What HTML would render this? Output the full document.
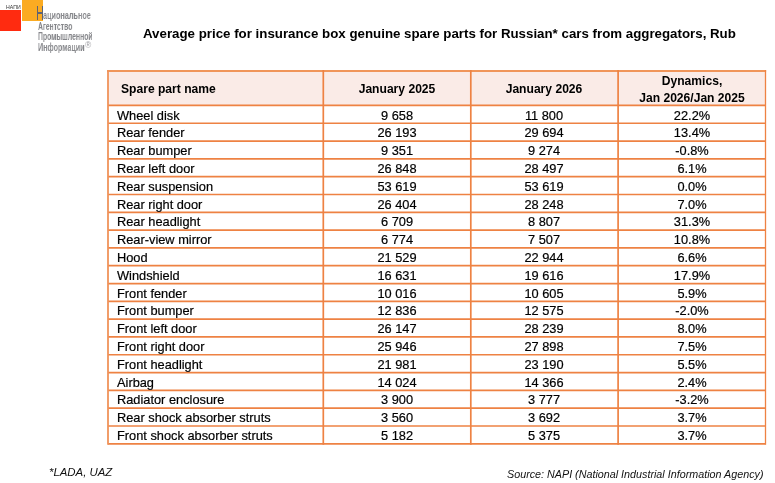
<!DOCTYPE html>
<html><head><meta charset="utf-8">
<style>
html,body{margin:0;padding:0;background:#fff;}
body{width:775px;height:483px;position:relative;overflow:hidden;font-family:"Liberation Sans",sans-serif;color:#000;}
.t{position:absolute;white-space:nowrap;line-height:1;will-change:transform;}
.ctr{text-align:center;}
.logo{color:#85868a;font-size:10.75px;font-weight:bold;transform-origin:0 0;}
.title{font-weight:bold;font-size:13.3px;color:#000;}
.hd{font-weight:bold;font-size:12.1px;color:#000;}
.c{font-size:12.8px;color:#000;-webkit-text-stroke:0.2px #000;}
.foot{font-style:italic;font-size:11.2px;color:#111;}
</style></head><body>
<div style="position:absolute;left:0;top:9.8px;width:21px;height:20.9px;background:#ff2b10"></div>
<div style="position:absolute;left:21.9px;top:0;width:21.3px;height:20.8px;background:#fbab22"></div>
<div class="t" style="left:6.4px;top:4.5px;font-size:5.2px;color:#333;transform:scaleX(1.0);transform-origin:0 0">НАПИ</div>
<div style="position:absolute;left:36.6px;top:6.2px;width:1.45px;height:13.8px;background:#5f6372"></div>
<div style="position:absolute;left:41.5px;top:6.2px;width:1.45px;height:13.8px;background:#5f6372"></div>
<div style="position:absolute;left:36.6px;top:12.4px;width:6.3px;height:1.15px;background:#5f6372"></div>
<div class="t logo" style="left:42.9px;top:10.3px;transform:scaleX(0.676)">ациональное</div>
<div class="t logo" style="left:37.6px;top:21.1px;transform:scaleX(0.635)">Агентство</div>
<div class="t logo" style="left:37.6px;top:31.4px;transform:scaleX(0.637)">Промышленной</div>
<div class="t logo" style="left:37.6px;top:41.8px;transform:scaleX(0.664)">Информации</div>
<div class="t" style="left:84.8px;top:40.7px;font-size:8.5px;color:#a0a0a5">®</div>
<div class="t title" style="left:142.5px;top:26.6px">Average price for insurance box genuine spare parts for Russian* cars from aggregators, Rub</div>
<svg style="position:absolute;left:0;top:0" width="775" height="483">
<rect x="108.0" y="71.0" width="657.5" height="34.43000000000001" fill="#faebe7"/>
<line x1="107.1" y1="71.0" x2="766.1" y2="71.0" stroke="#f0955a" stroke-width="1.8"/>
<line x1="108.0" y1="105.43" x2="765.5" y2="105.43" stroke="#ee8243" stroke-width="1.7"/>
<line x1="108.0" y1="123.24" x2="765.5" y2="123.24" stroke="#ee8243" stroke-width="1.7"/>
<line x1="108.0" y1="141.05" x2="765.5" y2="141.05" stroke="#ee8243" stroke-width="1.7"/>
<line x1="108.0" y1="158.86" x2="765.5" y2="158.86" stroke="#ee8243" stroke-width="1.7"/>
<line x1="108.0" y1="176.67" x2="765.5" y2="176.67" stroke="#ee8243" stroke-width="1.7"/>
<line x1="108.0" y1="194.48" x2="765.5" y2="194.48" stroke="#ee8243" stroke-width="1.7"/>
<line x1="108.0" y1="212.29" x2="765.5" y2="212.29" stroke="#ee8243" stroke-width="1.7"/>
<line x1="108.0" y1="230.10" x2="765.5" y2="230.10" stroke="#ee8243" stroke-width="1.7"/>
<line x1="108.0" y1="247.91" x2="765.5" y2="247.91" stroke="#ee8243" stroke-width="1.7"/>
<line x1="108.0" y1="265.72" x2="765.5" y2="265.72" stroke="#ee8243" stroke-width="1.7"/>
<line x1="108.0" y1="283.53" x2="765.5" y2="283.53" stroke="#ee8243" stroke-width="1.7"/>
<line x1="108.0" y1="301.34" x2="765.5" y2="301.34" stroke="#ee8243" stroke-width="1.7"/>
<line x1="108.0" y1="319.15" x2="765.5" y2="319.15" stroke="#ee8243" stroke-width="1.7"/>
<line x1="108.0" y1="336.96" x2="765.5" y2="336.96" stroke="#ee8243" stroke-width="1.7"/>
<line x1="108.0" y1="354.77" x2="765.5" y2="354.77" stroke="#ee8243" stroke-width="1.7"/>
<line x1="108.0" y1="372.58" x2="765.5" y2="372.58" stroke="#ee8243" stroke-width="1.7"/>
<line x1="108.0" y1="390.39" x2="765.5" y2="390.39" stroke="#ee8243" stroke-width="1.7"/>
<line x1="108.0" y1="408.20" x2="765.5" y2="408.20" stroke="#ee8243" stroke-width="1.7"/>
<line x1="108.0" y1="426.01" x2="765.5" y2="426.01" stroke="#ee8243" stroke-width="1.7"/>
<line x1="108.0" y1="443.82" x2="765.5" y2="443.82" stroke="#ee8243" stroke-width="1.8"/>
<line x1="108.0" y1="70.1" x2="108.0" y2="444.72" stroke="#f0935a" stroke-width="1.8"/>
<line x1="323.3" y1="70.1" x2="323.3" y2="444.72" stroke="#ee8243" stroke-width="1.7"/>
<line x1="470.8" y1="70.1" x2="470.8" y2="444.72" stroke="#ee8243" stroke-width="1.7"/>
<line x1="618.1" y1="70.1" x2="618.1" y2="444.72" stroke="#ee8243" stroke-width="1.7"/>
<line x1="765.5" y1="70.1" x2="765.5" y2="444.72" stroke="#ee8243" stroke-width="1.3"/>
</svg>
<div class="t hd" style="left:121.2px;top:83.20px">Spare part name</div>
<div class="t hd ctr" style="left:297.05px;width:200px;top:83.20px">January 2025</div>
<div class="t hd ctr" style="left:444.45px;width:200px;top:83.20px">January 2026</div>
<div class="t hd ctr" style="left:591.80px;width:200px;top:75.00px">Dynamics,</div>
<div class="t hd ctr" style="left:591.80px;width:200px;top:92.00px">Jan 2026/Jan 2025</div>
<div class="t c" style="left:116.6px;top:109.53px">Wheel disk</div>
<div class="t c ctr" style="left:297.05px;width:200px;top:109.53px">9 658</div>
<div class="t c ctr" style="left:444.45px;width:200px;top:109.53px">11 800</div>
<div class="t c ctr" style="left:591.80px;width:200px;top:109.53px">22.2%</div>
<div class="t c" style="left:116.6px;top:127.34px">Rear fender</div>
<div class="t c ctr" style="left:297.05px;width:200px;top:127.34px">26 193</div>
<div class="t c ctr" style="left:444.45px;width:200px;top:127.34px">29 694</div>
<div class="t c ctr" style="left:591.80px;width:200px;top:127.34px">13.4%</div>
<div class="t c" style="left:116.6px;top:145.15px">Rear bumper</div>
<div class="t c ctr" style="left:297.05px;width:200px;top:145.15px">9 351</div>
<div class="t c ctr" style="left:444.45px;width:200px;top:145.15px">9 274</div>
<div class="t c ctr" style="left:591.80px;width:200px;top:145.15px">-0.8%</div>
<div class="t c" style="left:116.6px;top:162.96px">Rear left door</div>
<div class="t c ctr" style="left:297.05px;width:200px;top:162.96px">26 848</div>
<div class="t c ctr" style="left:444.45px;width:200px;top:162.96px">28 497</div>
<div class="t c ctr" style="left:591.80px;width:200px;top:162.96px">6.1%</div>
<div class="t c" style="left:116.6px;top:180.77px">Rear suspension</div>
<div class="t c ctr" style="left:297.05px;width:200px;top:180.77px">53 619</div>
<div class="t c ctr" style="left:444.45px;width:200px;top:180.77px">53 619</div>
<div class="t c ctr" style="left:591.80px;width:200px;top:180.77px">0.0%</div>
<div class="t c" style="left:116.6px;top:198.58px">Rear right door</div>
<div class="t c ctr" style="left:297.05px;width:200px;top:198.58px">26 404</div>
<div class="t c ctr" style="left:444.45px;width:200px;top:198.58px">28 248</div>
<div class="t c ctr" style="left:591.80px;width:200px;top:198.58px">7.0%</div>
<div class="t c" style="left:116.6px;top:216.39px">Rear headlight</div>
<div class="t c ctr" style="left:297.05px;width:200px;top:216.39px">6 709</div>
<div class="t c ctr" style="left:444.45px;width:200px;top:216.39px">8 807</div>
<div class="t c ctr" style="left:591.80px;width:200px;top:216.39px">31.3%</div>
<div class="t c" style="left:116.6px;top:234.20px">Rear-view mirror</div>
<div class="t c ctr" style="left:297.05px;width:200px;top:234.20px">6 774</div>
<div class="t c ctr" style="left:444.45px;width:200px;top:234.20px">7 507</div>
<div class="t c ctr" style="left:591.80px;width:200px;top:234.20px">10.8%</div>
<div class="t c" style="left:116.6px;top:252.01px">Hood</div>
<div class="t c ctr" style="left:297.05px;width:200px;top:252.01px">21 529</div>
<div class="t c ctr" style="left:444.45px;width:200px;top:252.01px">22 944</div>
<div class="t c ctr" style="left:591.80px;width:200px;top:252.01px">6.6%</div>
<div class="t c" style="left:116.6px;top:269.82px">Windshield</div>
<div class="t c ctr" style="left:297.05px;width:200px;top:269.82px">16 631</div>
<div class="t c ctr" style="left:444.45px;width:200px;top:269.82px">19 616</div>
<div class="t c ctr" style="left:591.80px;width:200px;top:269.82px">17.9%</div>
<div class="t c" style="left:116.6px;top:287.63px">Front fender</div>
<div class="t c ctr" style="left:297.05px;width:200px;top:287.63px">10 016</div>
<div class="t c ctr" style="left:444.45px;width:200px;top:287.63px">10 605</div>
<div class="t c ctr" style="left:591.80px;width:200px;top:287.63px">5.9%</div>
<div class="t c" style="left:116.6px;top:305.44px">Front bumper</div>
<div class="t c ctr" style="left:297.05px;width:200px;top:305.44px">12 836</div>
<div class="t c ctr" style="left:444.45px;width:200px;top:305.44px">12 575</div>
<div class="t c ctr" style="left:591.80px;width:200px;top:305.44px">-2.0%</div>
<div class="t c" style="left:116.6px;top:323.25px">Front left door</div>
<div class="t c ctr" style="left:297.05px;width:200px;top:323.25px">26 147</div>
<div class="t c ctr" style="left:444.45px;width:200px;top:323.25px">28 239</div>
<div class="t c ctr" style="left:591.80px;width:200px;top:323.25px">8.0%</div>
<div class="t c" style="left:116.6px;top:341.06px">Front right door</div>
<div class="t c ctr" style="left:297.05px;width:200px;top:341.06px">25 946</div>
<div class="t c ctr" style="left:444.45px;width:200px;top:341.06px">27 898</div>
<div class="t c ctr" style="left:591.80px;width:200px;top:341.06px">7.5%</div>
<div class="t c" style="left:116.6px;top:358.87px">Front headlight</div>
<div class="t c ctr" style="left:297.05px;width:200px;top:358.87px">21 981</div>
<div class="t c ctr" style="left:444.45px;width:200px;top:358.87px">23 190</div>
<div class="t c ctr" style="left:591.80px;width:200px;top:358.87px">5.5%</div>
<div class="t c" style="left:116.6px;top:376.68px">Airbag</div>
<div class="t c ctr" style="left:297.05px;width:200px;top:376.68px">14 024</div>
<div class="t c ctr" style="left:444.45px;width:200px;top:376.68px">14 366</div>
<div class="t c ctr" style="left:591.80px;width:200px;top:376.68px">2.4%</div>
<div class="t c" style="left:116.6px;top:394.49px">Radiator enclosure</div>
<div class="t c ctr" style="left:297.05px;width:200px;top:394.49px">3 900</div>
<div class="t c ctr" style="left:444.45px;width:200px;top:394.49px">3 777</div>
<div class="t c ctr" style="left:591.80px;width:200px;top:394.49px">-3.2%</div>
<div class="t c" style="left:116.6px;top:412.30px">Rear shock absorber struts</div>
<div class="t c ctr" style="left:297.05px;width:200px;top:412.30px">3 560</div>
<div class="t c ctr" style="left:444.45px;width:200px;top:412.30px">3 692</div>
<div class="t c ctr" style="left:591.80px;width:200px;top:412.30px">3.7%</div>
<div class="t c" style="left:116.6px;top:430.11px">Front shock absorber struts</div>
<div class="t c ctr" style="left:297.05px;width:200px;top:430.11px">5 182</div>
<div class="t c ctr" style="left:444.45px;width:200px;top:430.11px">5 375</div>
<div class="t c ctr" style="left:591.80px;width:200px;top:430.11px">3.7%</div>
<div class="t foot" style="left:48.6px;top:467px;font-size:11.4px">*LADA, UAZ</div>
<div class="t foot" style="left:507px;top:469px;font-size:10.75px">Source: NAPI (National Industrial Information Agency)</div>
</body></html>
